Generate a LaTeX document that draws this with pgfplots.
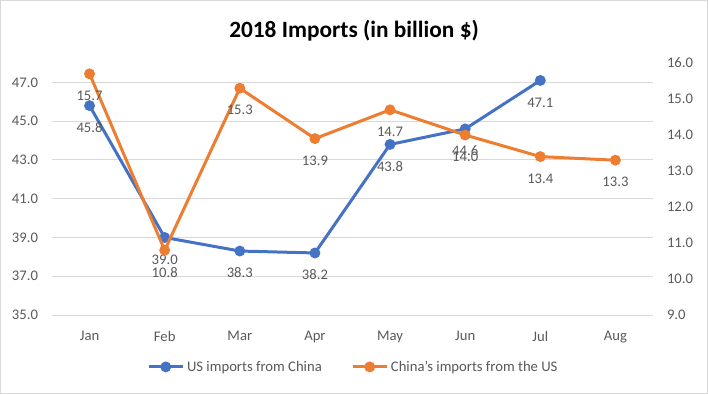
\documentclass[border=0pt]{standalone}
\usepackage{pgfplots}
\pgfplotsset{compat=1.18}
\usepackage{fontspec}
\setmainfont{Carlito}
\definecolor{usblue}{HTML}{4472C4}
\definecolor{cnorange}{HTML}{ED7D31}
\definecolor{txt}{HTML}{595959}
\definecolor{gridc}{HTML}{D9D9D9}
\pgfplotsset{
  common/.style={
    at={(39pt,59.25pt)}, anchor=south west, scale only axis,
    width=450.75pt, height=189pt,
    xmin=-0.5, xmax=7.5,
    major tick length=0pt,
    axis line style={draw=none},
    tick label style={font=\fontsize{11}{13}\selectfont, text=txt},
    /pgf/number format/assume math mode=true,
    yticklabel style={/pgf/number format/fixed, /pgf/number format/fixed zerofill, /pgf/number format/precision=1},
    nodes near coords,
    nodes near coords style={font=\fontsize{11}{13}\selectfont, text=txt,
      /pgf/number format/fixed, /pgf/number format/fixed zerofill, /pgf/number format/precision=1, /pgf/number format/assume math mode=true},
    every node near coord/.append style={anchor=center, yshift=-16.5pt},
  },
  ser/.style={line width=2.25pt, mark=*, mark size=2.9pt, mark options={solid}},
}
\begin{document}
\begin{tikzpicture}
\useasboundingbox (0,0) rectangle (531pt,295.5pt);
\draw[gridc, line width=0.75pt] (0.4pt,0.4pt) rectangle (530.6pt,295.1pt);
\node[font=\fontsize{17.5}{20}\selectfont\bfseries] at (265.5pt,272.5pt) {2018 Imports (in billion \$)};
\begin{axis}[common,
  ymin=35, ymax=48, ytick={35,37,...,47},
  xtick={0,...,7}, xticklabels={Jan,Feb,Mar,Apr,May,Jun,Jul,Aug},
  xticklabel style={yshift=-8.5pt},
  yticklabel style={xshift=-7pt},
  ymajorgrids, grid style={gridc, line width=0.75pt},
  legend style={draw=none, at={(0.502,-0.206)}, anchor=center,
    font=\fontsize{11}{13}\selectfont, text=txt,
    /tikz/every even column/.append style={column sep=20pt}},
  legend columns=2,
  legend image code/.code={\draw[mark repeat=2, mark phase=2] plot coordinates {(0cm,0cm) (0.45cm,0cm) (0.9cm,0cm)};},
]
\addplot[usblue, ser] coordinates {(0,45.8) (1,39.0) (2,38.3) (3,38.2) (4,43.8) (5,44.6) (6,47.1)};
\addlegendentry{US imports from China}
\addlegendimage{cnorange, ser}
\addlegendentry{China's imports from the US}
\end{axis}
\begin{axis}[common,
  ymin=9, ymax=16, ytick={9,...,16},
  hide x axis, axis y line*=right,
  yticklabel style={xshift=7pt},
]
\addplot[cnorange, ser] coordinates {(0,15.7) (1,10.8) (2,15.3) (3,13.9) (4,14.7) (5,14.0) (6,13.4) (7,13.3)};
\end{axis}
\end{tikzpicture}
\end{document}
